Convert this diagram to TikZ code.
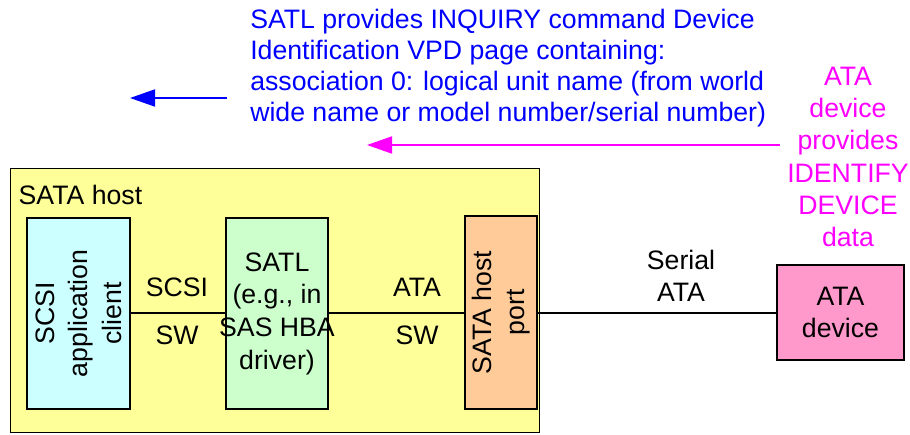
\documentclass[tikz,border=0pt]{standalone}
\usepackage{fontspec}
\setmainfont{Liberation Sans}
\usetikzlibrary{arrows.meta}
\definecolor{hostyellow}{HTML}{FFFF99}
\definecolor{clientcyan}{HTML}{CCFFFF}
\definecolor{satlgreen}{HTML}{CCFFCC}
\definecolor{portorange}{HTML}{FFCC99}
\definecolor{devpink}{HTML}{FF99CC}
\definecolor{noteblue}{HTML}{0000FF}
\definecolor{notemagenta}{HTML}{FF00FF}
\begin{document}
\begin{tikzpicture}[x=0.75pt,y=-0.75pt,
  every node/.style={font=\fontsize{20}{24}\selectfont},
  block/.style={draw=black,line width=1.1pt,inner sep=0pt,align=center},
  link/.style={draw=black,line width=1.1pt},
  note/.style={line width=1.4pt,-{Triangle[length=18.75pt,width=12.75pt]}}]
\useasboundingbox (0,0) rectangle (910,435);
% SATA host enclosure
\node[block,fill=hostyellow,minimum width=396.75pt,minimum height=198pt,anchor=north west] (host) at (10,168) {};
\node[anchor=west] (hostlbl) at (14,195) {SATA host};
% host components
\node[block,fill=clientcyan,minimum width=77.25pt,minimum height=143.25pt] (client) at (78.5,313.5) {};
\node[rotate=90,align=center,font=\fontsize{20}{25}\selectfont] (clienttxt) at (client.center) {SCSI\\application\\client};
\node[block,fill=satlgreen,minimum width=76.5pt,minimum height=143.25pt] (satl) at (277,313.5) {};
\node[align=center,font=\fontsize{20}{24.5}\selectfont] (satltxt) at (satl.center) {SATL\\(e.g., in\\SAS HBA\\driver)};
\node[block,fill=portorange,minimum width=54pt,minimum height=144.75pt] (port) at (501,312.5) {};
\node[rotate=90,align=center,font=\fontsize{20}{25}\selectfont] (porttxt) at (port.center) {SATA host\\port};
% ATA device
\node[block,fill=devpink,minimum width=95.25pt,minimum height=71.25pt,font=\fontsize{20}{23.5}\selectfont] (dev) at (840.5,312.5) {ATA\\device};
% connections
\draw[link] (client.east |- 0,313) coordinate (c1) -- (satl.west |- c1);
\draw[link] (satl.east |- 0,313) coordinate (c2) -- (port.west |- c2);
\draw[link] (port.east |- 0,313) coordinate (c3) -- (dev.west |- c3);
\node (scsi) at (177,287) {SCSI};
\node (sw1) at (177,335) {SW};
\node (ata) at (417,287) {ATA};
\node (sw2) at (417,335) {SW};
\node[align=center] (serial) at (681,276) {Serial\\ATA};
% annotations
\node[anchor=north west,align=left,text=noteblue,inner sep=0pt,font=\fontsize{20}{23.25}\selectfont] (bluenote) at (250,9)
  {SATL provides INQUIRY command Device\\Identification VPD page containing:\\association 0: logical unit name (from world\\wide name or model number/serial number)};
\coordinate (bstart) at (227,98);
\coordinate (bend) at (130,98);
\draw[note,noteblue] (bstart) -- (bend);
\node[align=center,text=notemagenta,font=\fontsize{20}{24.15}\selectfont] (pinknote) at (848,157)
  {ATA\\device\\provides\\IDENTIFY\\DEVICE\\data};
\coordinate (mstart) at (780,145);
\coordinate (mend) at (367,145);
\draw[note,notemagenta] (mstart) -- (mend);
\end{tikzpicture}
\end{document}
